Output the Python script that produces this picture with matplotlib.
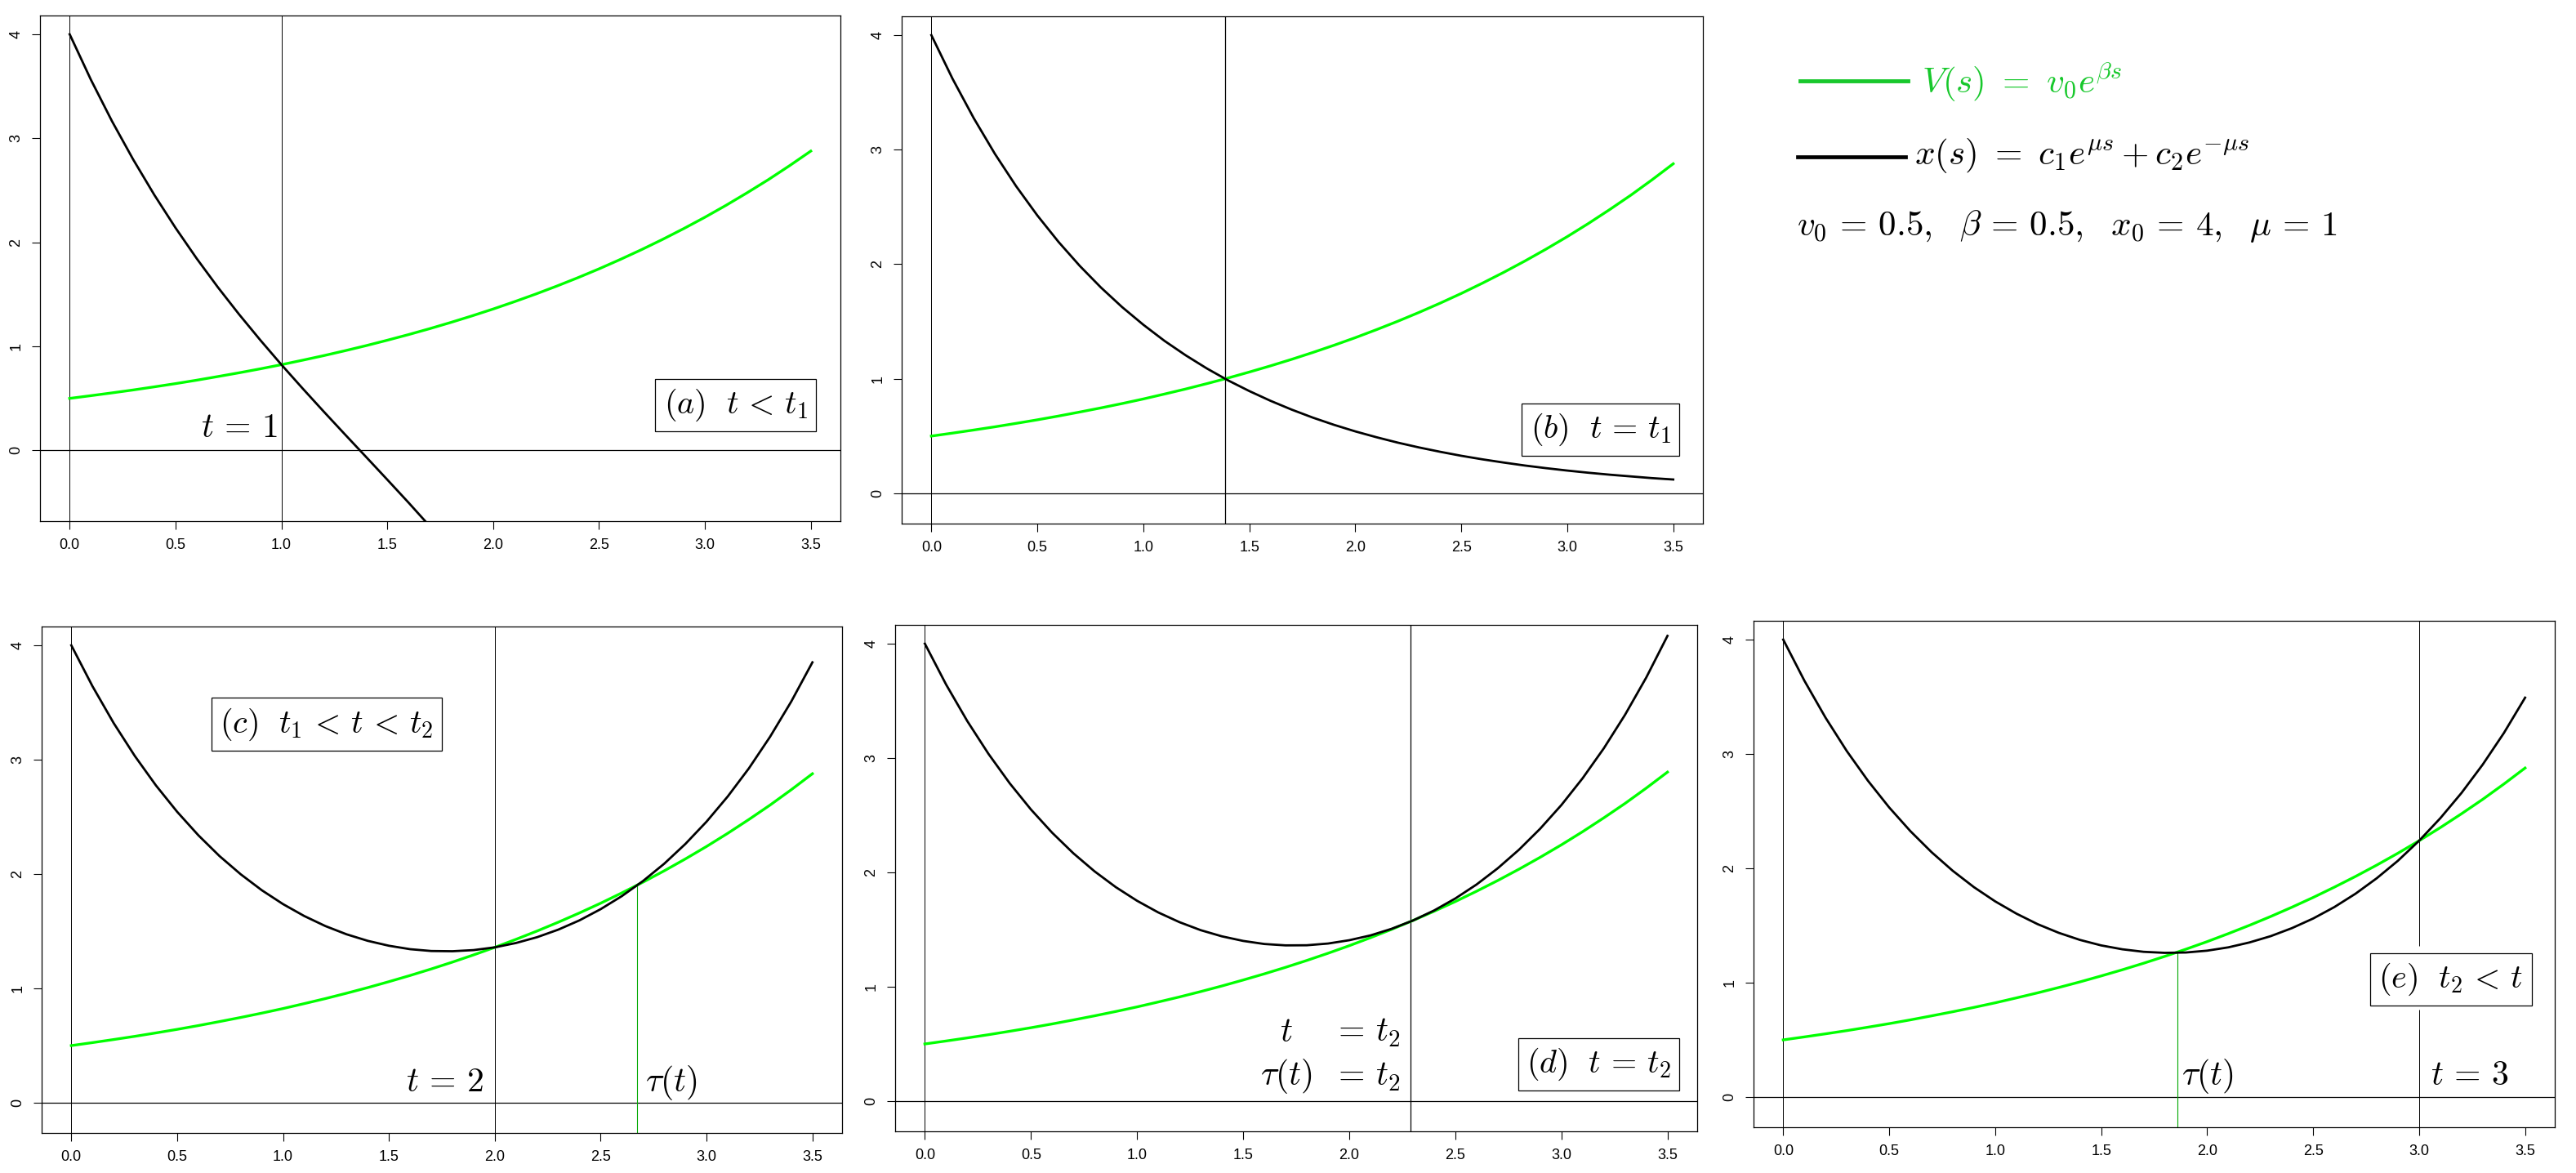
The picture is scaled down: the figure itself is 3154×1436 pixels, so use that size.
import matplotlib.pyplot as plt
from matplotlib.lines import Line2D

plt.rcParams['mathtext.fontset'] = 'cm'
plt.rcParams['font.family'] = ['Liberation Sans Narrow', 'Liberation Sans', 'DejaVu Sans']

# sample positions s (values at these points)
s_vals = [0.0, 0.1, 0.2, 0.3, 0.4, 0.5, 0.6, 0.7, 0.8, 0.9,
          1.0, 1.1, 1.2, 1.3, 1.4, 1.5, 1.6, 1.7, 1.8, 1.9,
          2.0, 2.1, 2.2, 2.3, 2.4, 2.5, 2.6, 2.7, 2.8, 2.9,
          3.0, 3.1, 3.2, 3.3, 3.4, 3.5]

# green curve V(s), same in every panel
v_curve = [0.500, 0.526, 0.553, 0.581, 0.611, 0.642, 0.675, 0.710, 0.746, 0.784,
           0.824, 0.867, 0.911, 0.958, 1.007, 1.059, 1.113, 1.170, 1.230, 1.293,
           1.359, 1.429, 1.502, 1.579, 1.660, 1.745, 1.835, 1.929, 2.028, 2.132,
           2.241, 2.356, 2.477, 2.603, 2.737, 2.877]

# black curves x(s), one per panel
x_a = [4.000, 3.564, 3.164, 2.796, 2.455, 2.139, 1.844, 1.568, 1.308, 1.061,
       0.824, 0.596, 0.373, 0.154, -0.063, -0.281, -0.501, -0.727, -0.960]
x_b = [4.000, 3.619, 3.275, 2.963, 2.681, 2.426, 2.195, 1.986, 1.797, 1.626,
       1.472, 1.331, 1.205, 1.090, 0.986, 0.893, 0.808, 0.731, 0.661, 0.598,
       0.541, 0.490, 0.443, 0.401, 0.363, 0.328, 0.297, 0.269, 0.243, 0.220,
       0.199, 0.180, 0.163, 0.148, 0.133, 0.121]
x_c = [4.000, 3.642, 3.320, 3.032, 2.774, 2.544, 2.339, 2.157, 1.998, 1.858,
       1.737, 1.633, 1.545, 1.473, 1.416, 1.373, 1.343, 1.327, 1.325, 1.335,
       1.359, 1.397, 1.448, 1.514, 1.595, 1.693, 1.807, 1.939, 2.090, 2.263,
       2.458, 2.678, 2.924, 3.200, 3.508, 3.851]
x_d = [4.000, 3.643, 3.323, 3.036, 2.779, 2.550, 2.347, 2.167, 2.009, 1.871,
       1.752, 1.650, 1.565, 1.495, 1.441, 1.401, 1.374, 1.362, 1.363, 1.378,
       1.407, 1.449, 1.507, 1.579, 1.667, 1.772, 1.894, 2.036, 2.198, 2.382,
       2.589, 2.823, 3.085, 3.378, 3.704, 4.068]
x_e = [4.000, 3.640, 3.316, 3.025, 2.765, 2.532, 2.325, 2.141, 1.978, 1.835,
       1.711, 1.604, 1.512, 1.436, 1.374, 1.326, 1.292, 1.270, 1.261, 1.264,
       1.280, 1.309, 1.352, 1.407, 1.477, 1.561, 1.661, 1.778, 1.913, 2.066,
       2.241, 2.438, 2.659, 2.907, 3.183, 3.492]

t_marks = [1.0, 1.386, 2.0, 2.29, 3.0]
tau_c, tau_c_y = 2.67, 1.90
tau_e, tau_e_y = 1.86, 1.267

x_ticks = [0.0, 0.5, 1.0, 1.5, 2.0, 2.5, 3.0, 3.5]
x_ticklabels = ['0.0', '0.5', '1.0', '1.5', '2.0', '2.5', '3.0', '3.5']
y_ticks = [0, 1, 2, 3, 4]

GREEN = '#00ff00'
TAU_GREEN = '#00a800'
LEG_GREEN = '#18c82c'

W, H = 3154, 1436
fig = plt.figure(figsize=(W / 100, H / 100), dpi=100)

XLIM = (-0.14, 3.64)
FS = 30


def panel(left, top, right, bottom, ylim):
    ax = fig.add_axes([left / W, 1 - bottom / H, (right - left) / W, (bottom - top) / H])
    ax.set_xlim(*XLIM)
    ax.set_ylim(*ylim)
    ax.set_xticks(x_ticks)
    ax.set_xticklabels(x_ticklabels)
    ax.set_yticks(y_ticks)
    ax.tick_params(length=7, width=0.8, pad=8, labelsize=13)
    ax.tick_params(axis='y', labelrotation=90)
    for lab in ax.get_yticklabels():
        lab.set_va('center')
    for sp in ax.spines.values():
        sp.set_linewidth(0.9)
    ax.axvline(0, color='black', lw=0.7, zorder=1)
    ax.axhline(0, color='black', lw=0.9, zorder=1)
    return ax


def curves(ax, xs):
    ax.plot(s_vals, v_curve, color=GREEN, lw=2.4, zorder=3)
    ax.plot(s_vals[:len(xs)], xs, color='black', lw=2.0, zorder=4)


def label_box(ax, x, y, txt):
    ax.text(x, y, txt, ha='center', va='center', fontsize=29, zorder=6,
            bbox=dict(boxstyle='square,pad=0.25', fc='white', ec='black', lw=0.9))


# (a)
ax = panel(49, 19, 1029, 638, (-0.68, 4.18))
ax.axvline(t_marks[0], color='black', lw=0.7, zorder=1)
curves(ax, x_a)
ax.text(0.98, 0.13, r'$t\,=\,1$', ha='right', va='baseline', fontsize=FS)
label_box(ax, 3.145, 0.434, r'$(a)\ \ t\,<\,t_1$')

# (b)
ax = panel(1104, 20, 2085, 641, (-0.264, 4.164))
ax.axvline(t_marks[1], color='black', lw=0.9, zorder=1)
curves(ax, x_b)
label_box(ax, 3.157, 0.557, r'$(b)\ \ t\,=\,t_1$')

# (c)
ax = panel(51, 767, 1031, 1387, (-0.264, 4.164))
ax.axvline(t_marks[2], color='black', lw=0.7, zorder=1)
ax.vlines(tau_c, -0.264, tau_c_y, color=TAU_GREEN, lw=0.8, zorder=2)
curves(ax, x_c)
ax.text(1.945, 0.1, r'$t\,=\,2$', ha='right', va='baseline', fontsize=FS)
ax.text(2.71, 0.1, r'$\tau(t)$', ha='left', va='baseline', fontsize=FS)
label_box(ax, 1.205, 3.31, r'$(c)\ \ t_1\,<\,t\,<\,t_2$')

# (d)
ax = panel(1096, 765, 2078, 1385, (-0.264, 4.164))
ax.axvline(t_marks[3], color='black', lw=0.9, zorder=1)
curves(ax, x_d)
ax.text(1.703, 0.52, r'$t$', ha='center', va='baseline', fontsize=FS)
ax.text(1.703, 0.14, r'$\tau(t)$', ha='center', va='baseline', fontsize=FS)
ax.text(1.92, 0.52, r'$=\,t_2$', ha='left', va='baseline', fontsize=FS)
ax.text(1.92, 0.14, r'$=\,t_2$', ha='left', va='baseline', fontsize=FS)
label_box(ax, 3.177, 0.32, r'$(d)\ \ t\,=\,t_2$')

# (e)
ax = panel(2147, 760, 3128, 1380, (-0.264, 4.164))
ax.vlines(t_marks[4], 1.318, 4.164, color='black', lw=0.7, zorder=1)
ax.vlines(t_marks[4], -0.264, 0.765, color='black', lw=0.7, zorder=1)
ax.vlines(tau_e, -0.264, tau_e_y, color=TAU_GREEN, lw=0.8, zorder=2)
curves(ax, x_e)
ax.text(1.88, 0.105, r'$\tau(t)$', ha='left', va='baseline', fontsize=FS)
ax.text(3.055, 0.105, r'$t\,=\,3$', ha='left', va='baseline', fontsize=FS)
label_box(ax, 3.15, 1.028, r'$(e)\ \ t_2\,<\,t$')

# legend block, top right
fig.add_artist(Line2D([2204 / W, 2336 / W], [1 - 99 / H, 1 - 99 / H],
                      color=LEG_GREEN, lw=3.5, transform=fig.transFigure))
fig.add_artist(Line2D([2201 / W, 2333 / W], [1 - 192 / H, 1 - 192 / H],
                      color='black', lw=3.4, transform=fig.transFigure))
fig.text(2353 / W, 1 - 100 / H, r'$V(s)\ =\ v_0e^{\beta s}$', color=LEG_GREEN,
         fontsize=31, ha='left', va='center')
fig.text(2344 / W, 1 - 190 / H, r'$x(s)\ =\ c_1e^{\mu s} + c_2e^{-\mu s}$',
         color='black', fontsize=31, ha='left', va='center')
fig.text(2200 / W, 1 - 277 / H,
         r'$v_0\,=\,0.5,\ \ \beta\,=\,0.5,\ \ x_0\,=\,4,\ \ \mu\,=\,1$',
         color='black', fontsize=31, ha='left', va='center')

fig.savefig('out.png', dpi=100)
